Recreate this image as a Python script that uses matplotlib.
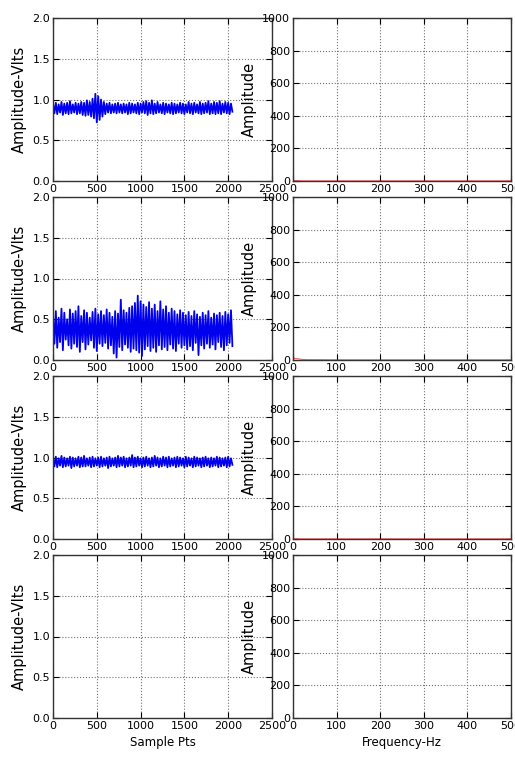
import numpy as np
import matplotlib.pyplot as plt

n_samples = 2048  # sample points per record

# time-domain records (decimated)
sig1 = [
    0.95, 0.83, 0.96, 0.82, 0.94, 0.84, 0.97, 0.81, 0.95, 0.83, 0.96, 0.82, 0.98, 0.83, 0.94, 0.84,
    0.96, 0.82, 0.95, 0.83, 0.97, 0.81, 0.96, 0.80, 0.99, 0.81, 0.97, 0.79, 1.01, 0.77, 1.07, 0.72,
    1.04, 0.75, 1.00, 0.79, 0.97, 0.82, 0.95, 0.84, 0.96, 0.83, 0.94, 0.84, 0.95, 0.83, 0.96, 0.84,
    0.94, 0.83, 0.95, 0.84, 0.94, 0.82, 0.96, 0.83, 0.95, 0.84, 0.94, 0.83, 0.96, 0.82, 0.95, 0.84,
    0.97, 0.83, 0.98, 0.81, 0.96, 0.83, 0.99, 0.82, 0.95, 0.83, 0.97, 0.84, 0.94, 0.83, 0.96, 0.82,
    0.95, 0.84, 0.94, 0.83, 0.96, 0.82, 0.95, 0.83, 0.94, 0.84, 0.96, 0.83, 0.95, 0.82, 0.94, 0.84,
    0.97, 0.83, 0.95, 0.82, 0.96, 0.84, 0.94, 0.83, 0.97, 0.82, 0.95, 0.83, 0.96, 0.84, 0.98, 0.82,
    0.95, 0.83, 0.97, 0.82, 0.96, 0.83, 0.98, 0.82, 0.95, 0.84, 0.97, 0.83, 0.96, 0.82, 0.95, 0.85,
]
sig2 = [
    0.55, 0.20, 0.60, 0.15, 0.52, 0.22, 0.63, 0.12, 0.58, 0.25, 0.50, 0.18, 0.62, 0.14, 0.57, 0.20,
    0.60, 0.16, 0.66, 0.10, 0.54, 0.22, 0.61, 0.13, 0.58, 0.19, 0.52, 0.24, 0.59, 0.15, 0.63, 0.11,
    0.56, 0.20, 0.60, 0.17, 0.55, 0.21, 0.62, 0.14, 0.58, 0.18, 0.53, 0.08, 0.60, 0.03, 0.57, 0.16,
    0.74, 0.12, 0.61, 0.19, 0.58, 0.15, 0.64, 0.10, 0.66, 0.14, 0.70, 0.12, 0.79, 0.09, 0.72, 0.05,
    0.68, 0.13, 0.65, 0.17, 0.71, 0.11, 0.63, 0.15, 0.68, 0.10, 0.60, 0.18, 0.72, 0.13, 0.62, 0.16,
    0.66, 0.12, 0.58, 0.19, 0.63, 0.14, 0.60, 0.11, 0.56, 0.20, 0.61, 0.15, 0.58, 0.18, 0.55, 0.13,
    0.59, 0.17, 0.54, 0.12, 0.60, 0.21, 0.56, 0.06, 0.53, 0.18, 0.58, 0.14, 0.55, 0.20, 0.60, 0.15,
    0.52, 0.19, 0.57, 0.13, 0.55, 0.22, 0.58, 0.16, 0.54, 0.12, 0.59, 0.18, 0.56, 0.21, 0.61, 0.17,
]
sig3 = [
    1.00, 0.89, 1.01, 0.88, 0.99, 0.90, 1.02, 0.88, 1.00, 0.89, 0.99, 0.90, 1.01, 0.87, 1.00, 0.89,
    0.99, 0.90, 1.01, 0.88, 1.00, 0.89, 1.02, 0.89, 0.99, 0.90, 1.00, 0.88, 1.01, 0.89, 0.99, 0.90,
    1.00, 0.88, 1.01, 0.89, 0.99, 0.90, 1.00, 0.87, 1.01, 0.89, 0.99, 0.90, 1.00, 0.88, 1.02, 0.89,
    1.00, 0.90, 1.01, 0.88, 0.99, 0.89, 1.00, 0.90, 1.03, 0.88, 1.00, 0.89, 1.01, 0.90, 0.99, 0.88,
    1.00, 0.89, 1.01, 0.90, 0.99, 0.88, 1.00, 0.89, 1.02, 0.90, 1.00, 0.88, 0.99, 0.89, 1.01, 0.90,
    1.00, 0.88, 1.01, 0.89, 0.99, 0.90, 1.00, 0.88, 1.01, 0.89, 1.00, 0.90, 0.99, 0.88, 1.01, 0.89,
    1.00, 0.90, 0.99, 0.88, 1.01, 0.89, 1.00, 0.90, 0.99, 0.88, 1.00, 0.89, 1.01, 0.90, 0.99, 0.88,
    1.00, 0.89, 0.99, 0.90, 1.01, 0.88, 1.00, 0.89, 0.99, 0.90, 1.00, 0.88, 1.01, 0.89, 0.99, 0.91,
]
signals = [sig1, sig2, sig3, None]

# FFT magnitudes (tiny, near zero)
freqs = [0, 2, 5, 10, 15, 20, 30, 50, 100, 200, 300, 400, 500]
fft1 = [0, 4, 3, 2, 2, 1, 1, 1, 1, 1, 1, 1, 1]
fft2 = [0, 12, 9, 8, 6, 4, 2, 2, 1, 1, 1, 1, 1]
fft3 = [0, 3, 2, 2, 1, 1, 1, 1, 1, 1, 1, 1, 1]
ffts = [fft1, fft2, fft3, None]

W, H = 515, 765
fig = plt.figure(figsize=(W / 100, H / 100), dpi=100)

tops = [18, 197, 376, 555]
ax_h = 163


def style(ax):
    ax.tick_params(direction='in', top=True, right=True, labelsize=8, length=4, pad=2)
    ax.grid(True, linestyle=':', color='0.45', linewidth=0.8)
    for s in ax.spines.values():
        s.set_color('0.2')
        s.set_linewidth(1.0)


for i in range(4):
    bottom = 1 - (tops[i] + ax_h) / H
    axl = fig.add_axes([53 / W, bottom, (272 - 53) / W, ax_h / H])
    axr = fig.add_axes([293 / W, bottom, (511 - 293) / W, ax_h / H])

    if signals[i] is not None:
        x = np.linspace(0, n_samples, len(signals[i]))
        axl.plot(x, signals[i], color='#0000ee', linewidth=1.3)
    axl.set_xlim(0, 2500)
    axl.set_ylim(0, 2.0)
    axl.set_xticks([0, 500, 1000, 1500, 2000, 2500])
    axl.set_yticks([0.0, 0.5, 1.0, 1.5, 2.0])
    axl.set_ylabel('Amplitude-Vlts', fontsize=10.5, labelpad=4)
    style(axl)

    if ffts[i] is not None:
        axr.plot(freqs, ffts[i], color='r', linewidth=0.8, alpha=0.6)
    axr.set_xlim(0, 500)
    axr.set_ylim(0, 1000)
    axr.set_xticks([0, 100, 200, 300, 400, 500])
    axr.set_yticks([0, 200, 400, 600, 800, 1000])
    axr.set_ylabel('Amplitude', fontsize=10.5, labelpad=4)
    style(axr)

    if i == 3:
        axl.set_xlabel('Sample Pts', fontsize=8.5)
        axr.set_xlabel('Frequency-Hz', fontsize=8.5)

fig.savefig('out.png', dpi=100)
plt.close()
